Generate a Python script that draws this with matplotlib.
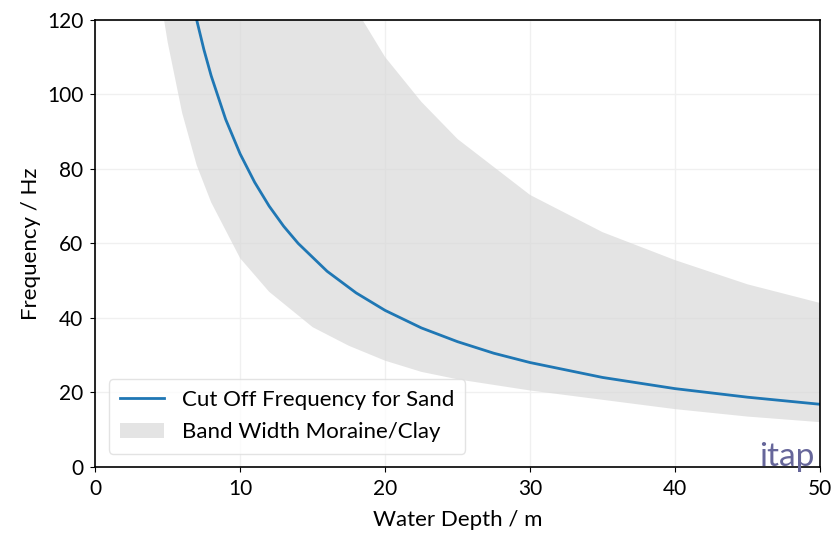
import matplotlib
matplotlib.use("Agg")
import matplotlib.pyplot as plt

plt.rcParams["font.family"] = ["Lato", "DejaVu Sans"]

# cut off frequency for sand
sand_depth = [7, 7.5, 8, 9, 10, 11, 12, 13, 14, 16, 18, 20, 22.5, 25, 27.5, 30, 35, 40, 45, 50]
sand_freq = [120, 112, 105, 93.3, 84, 76.4, 70, 64.6, 60, 52.5, 46.7, 42, 37.3, 33.6, 30.5, 28, 24, 21, 18.7, 16.8]

# band width moraine/clay, lower and upper edges
band_depth = [4, 4.5, 5, 6, 7, 8, 10, 12, 15, 17.5, 20, 22.5, 25, 30, 35, 40, 45, 50]
band_low = [142, 126, 114, 95, 81, 71, 56, 47, 37.5, 32.5, 28.5, 25.5, 23.5, 20.5, 18, 15.5, 13.5, 12]
band_high = [550, 490, 440, 367, 314, 275, 220, 183, 147, 126, 110, 98, 88, 73, 63, 55.5, 49, 44]


def make_plot():
    fig = plt.figure(figsize=(8.35, 5.36), dpi=100)
    ax = fig.add_axes([0.114, 0.129, 0.868, 0.834])

    ax.fill_between(band_depth, band_low, band_high, color="#d9d9d9", alpha=0.7,
                    linewidth=0, label="Band Width Moraine/Clay")
    ax.plot(sand_depth, sand_freq, color="#1f77b4", linewidth=2,
            label="Cut Off Frequency for Sand")

    ax.set_xlim(0, 50)
    ax.set_ylim(0, 120)
    ax.set_xticks([0, 10, 20, 30, 40, 50])
    ax.set_yticks([0, 20, 40, 60, 80, 100, 120])
    ax.grid(True, color="#f0f0f0", linewidth=1)
    ax.set_axisbelow(True)
    ax.tick_params(labelsize=15, pad=5)
    ax.set_xlabel("Water Depth / m", fontsize=16, labelpad=8)
    ax.set_ylabel("Frequency / Hz", fontsize=16, labelpad=4)
    for s in ax.spines.values():
        s.set_linewidth(1.2)

    handles, labels = ax.get_legend_handles_labels()
    ax.legend(handles[::-1], labels[::-1], loc="lower left", fontsize=16,
              framealpha=0.8, edgecolor="#dddddd", labelspacing=0.55,
              borderaxespad=0.6, borderpad=0.5)

    ax.text(0.993, -0.012, "itap", transform=ax.transAxes, ha="right", va="bottom",
            fontsize=24, color="#66669a")

    fig.savefig("out.png", dpi=100)


if __name__ == "__main__":
    make_plot()
